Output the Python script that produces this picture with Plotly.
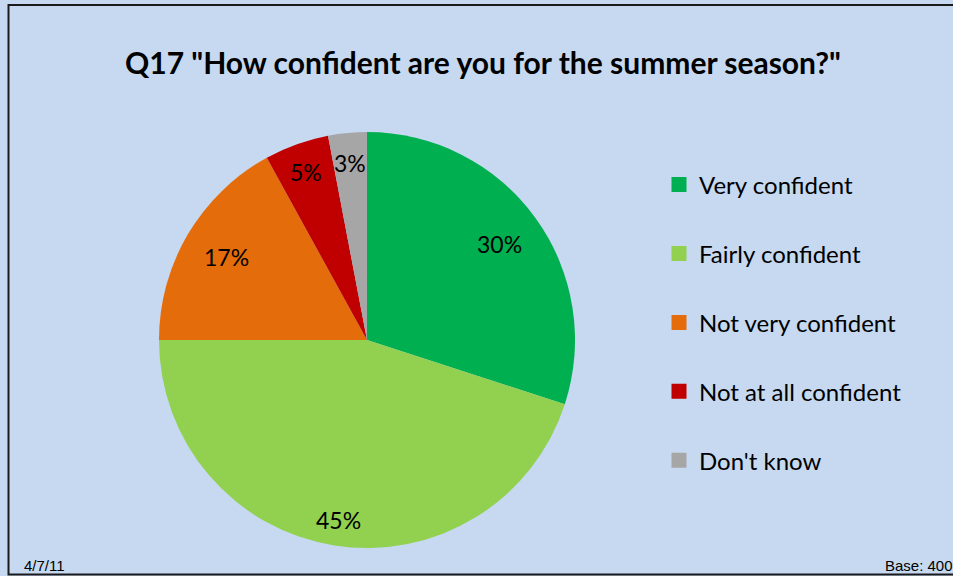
import math
import plotly.graph_objects as go

categories = ["Very confident", "Fairly confident", "Not very confident", "Not at all confident", "Don't know"]
values = [30, 45, 17, 5, 3]
colors = ["#00B050", "#92D050", "#E46C0A", "#C00000", "#A6A6A6"]
title_text = 'Q17 "How confident are you for the summer season?"'
date_text = "4/7/11"
base_text = "Base: 400"

# label placement (fraction of radius) - style only
label_radius = [0.785, 0.875, 0.785, 0.86, 0.855]

W, H = 953, 576
cx, cy, r = 367, 340, 208

fig = go.Figure()
fig.add_trace(go.Pie(
    labels=categories, values=values, sort=False, direction="clockwise", rotation=0,
    marker=dict(colors=colors, line=dict(width=0)),
    textinfo="none",
    domain=dict(x=[(cx - r) / W, (cx + r) / W], y=[(H - cy - r) / H, (H - cy + r) / H]),
    showlegend=False, hoverinfo="label+percent",
))
for c, col in zip(categories, colors):
    fig.add_trace(go.Scatter(x=[None], y=[None], mode="markers", name=c, legendgroup=c,
                             marker=dict(symbol="square", size=15, color=col)))

annotations = []
total = sum(values)
cum = 0
for v, fr in zip(values, label_radius):
    mid = (cum + v / 2) / total * 2 * math.pi
    cum += v
    px = cx + fr * r * math.sin(mid)
    py = cy - fr * r * math.cos(mid)
    annotations.append(dict(text=f"{round(v / total * 100)}%", x=px / W, y=1 - py / H,
                            xref="paper", yref="paper", showarrow=False,
                            xanchor="center", yanchor="middle",
                            font=dict(family="Lato", size=23, color="black")))

annotations += [
    dict(text="<b>" + title_text + "</b>", x=483 / W, y=1 - 62 / H,
         xref="paper", yref="paper", showarrow=False, xanchor="center", yanchor="middle",
         font=dict(family="Lato", size=30, color="black")),
    dict(text=date_text, x=22 / W, y=1 - 565 / H, xref="paper", yref="paper", showarrow=False,
         xanchor="left", yanchor="middle", font=dict(family="Liberation Sans", size=15, color="black")),
    dict(text=base_text, x=883 / W, y=1 - 565 / H, xref="paper", yref="paper", showarrow=False,
         xanchor="left", yanchor="middle", font=dict(family="Liberation Sans", size=15, color="black")),
]

fig.update_layout(
    width=W, height=H, margin=dict(l=0, r=0, t=0, b=0),
    paper_bgcolor="#C6D9F1", plot_bgcolor="#C6D9F1",
    xaxis=dict(visible=False), yaxis=dict(visible=False),
    legend=dict(x=659 / W, y=1 - 162.5 / H, xanchor="left", yanchor="top",
                font=dict(family="Lato", size=24, color="black"),
                tracegroupgap=34.7, itemwidth=30, bgcolor="rgba(0,0,0,0)"),
    annotations=annotations,
    shapes=[dict(type="rect", xref="paper", yref="paper", x0=8.5 / W, x1=1.02, y0=1.5 / H, y1=1 - 5 / H,
                 line=dict(color="#1a1a1a", width=2), fillcolor="rgba(0,0,0,0)", layer="above")],
)
fig.write_html("out.html", config={"displayModeBar": False},
               post_script="document.body.style.margin='0px';")
